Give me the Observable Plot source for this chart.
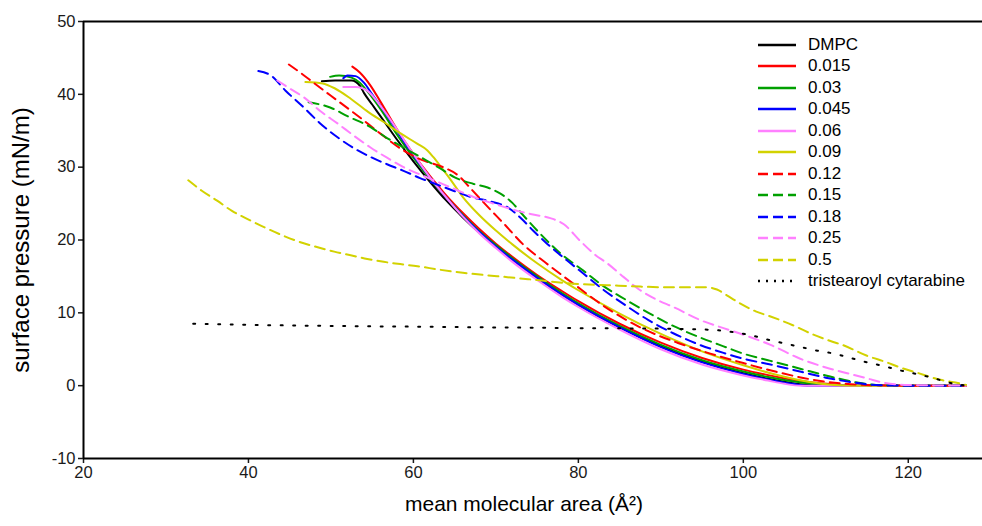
<!DOCTYPE html>
<html><head><meta charset="utf-8">
<script src="https://cdn.jsdelivr.net/npm/d3@7"></script>
<script src="https://cdn.jsdelivr.net/npm/@observablehq/plot@0.6"></script>
<style>
body{margin:0;background:#fff;font-family:"Liberation Sans",Arial,sans-serif}
#wrap{position:relative;width:982px;height:526px;overflow:hidden}
#legend{position:absolute;left:757px;top:34px}
.row{display:flex;align-items:center;height:21.5px;font-size:17px;color:#000;white-space:nowrap}
.row svg{width:40px;height:6px;margin-right:11px}
</style></head><body><div id="wrap"></div>
<script>
// ---- data ----
const seriesNames = ["DMPC","0.015","0.03","0.045","0.06","0.09","0.12","0.15","0.18","0.25","0.5","tristearoyl cytarabine"];
const xTicks = [20,40,60,80,100,120];
const yTicks = [-10,0,10,20,30,40,50];
const xTitle = "mean molecular area (Å²)";
const yTitle = "surface pressure (mN/m)";

const dmpc = [[48.9,41.8],[50.5,41.9],[52.5,41.9],[53.5,41.2],[54,40.2],[55,38.6],[56,37],[58,33.8],[60,30.8],[62,28],[64,25.4],[66,23.1],[68,21],[70,19.1],[72,17.3],[75,14.8],[78,12.5],[80,11.1],[85,8],[90,5.4],[95,3.3],[100,1.7],[103,0.95],[106,0.35],[109,0.05],[115,0],[127,0]];
const s0015 = [[52.6,43.8],[53.5,43],[54.8,41.2],[56,39],[58,35.2],[60,31.8],[62,28.8],[64,26.1],[66,23.7],[68,21.5],[70,19.5],[72,17.7],[75,15.2],[78,13],[80,11.6],[85,8.5],[90,5.9],[95,3.8],[100,2.2],[103,1.45],[106,0.8],[109,0.35],[112,0.1],[116,0],[127,0]];
const s003 = [[49.9,42.4],[51,42.6],[52.5,42.3],[53.5,41.6],[54.5,40.3],[56,38],[58,34.5],[60,31.3],[62,28.4],[64,25.8],[66,23.4],[68,21.2],[70,19.3],[72,17.5],[75,15],[78,12.7],[80,11.3],[85,8.2],[90,5.6],[95,3.5],[100,1.95],[103,1.2],[106,0.6],[109,0.2],[113,0],[127,0]];
const s0045 = [[51.5,42.2],[52,42.6],[53,42.5],[54,41.6],[55,40],[56.5,37.6],[58,35],[60,31.6],[62,28.6],[64,25.8],[66,23.3],[68,21.1],[70,19.1],[72,17.3],[75,14.8],[78,12.5],[80,11.1],[85,8],[90,5.3],[95,3.2],[100,1.6],[103,0.85],[106,0.25],[108,0],[127,0]];
const s006 = [[51.5,41],[53,41],[54.5,40.4],[56,38.4],[58,35.2],[60,31.8],[62,28.6],[64,25.8],[66,23.2],[68,20.9],[70,18.9],[72,17],[75,14.5],[78,12.2],[80,10.8],[85,7.7],[90,5],[95,2.9],[100,1.4],[103,0.7],[105,0.25],[107,0],[127,0]];
const s009 = [[46.9,41.7],[49,41.5],[50.5,40.8],[52.4,39.4],[54.5,37.6],[56.4,36.2],[58.5,34.6],[60.5,33.2],[61.7,32.3],[62.4,31.4],[63.5,29.8],[64.5,28.3],[66,25.9],[68,23.4],[70,21.3],[72,19.4],[75,16.8],[78,14.5],[80,13.1],[85,9.9],[90,7.1],[95,4.7],[100,2.8],[104,1.5],[108,0.5],[111,0.1],[114,0],[127,0]];
const s012 = [[44.9,44.1],[46.5,42.8],[48,41.5],[50,39.8],[53.2,37.1],[56,34.6],[58.8,32.3],[61,31],[63.6,30],[65.5,28.8],[67,27],[69.3,24.2],[71,22.2],[73.3,19.4],[76,16.9],[79.4,14],[83,11],[87.5,8],[92,5.9],[96,4.4],[100,3.1],[104,1.9],[108,0.9],[112,0.3],[116,0.05],[120,0],[127,0]];
const s015 = [[47.3,38.9],[49.9,38.2],[52,37],[54.8,35.5],[56.8,34],[58.8,32.7],[61,31.3],[63.3,29.8],[65,28.6],[67.3,27.7],[69,27.2],[70.5,26.4],[72,25.1],[73,23.8],[76.2,19.9],[78,18],[80.6,15.8],[83,13.7],[85.9,11.7],[88.5,10],[91.5,8.2],[94.8,6.6],[97.6,5.4],[100,4.4],[103.3,3.4],[107,2.3],[110,1.4],[114,0.4],[117,0.05],[127,0]];
const s018 = [[41.2,43.2],[42.7,42.6],[44.5,40.5],[46.7,38.2],[48.7,36],[50.8,34.1],[52.8,32.6],[54.8,31.4],[56.8,30.4],[58.8,29.5],[60.8,28.5],[62.9,27.6],[65,26.7],[67,25.9],[69.3,25.3],[71.4,24.5],[73.3,22.7],[74.5,21.3],[76.2,19.5],[78.5,17.3],[80.6,15.4],[83,13.2],[85.9,10.9],[88.5,9],[91.5,7.2],[94.5,5.7],[97.6,4.5],[100,3.7],[103.3,2.9],[107,1.9],[110,1.1],[113,0.5],[116,0.1],[120,0],[127,0]];
const s025 = [[43.5,41.9],[45,40.8],[46.7,39.6],[48.7,37.7],[50.8,36],[52.8,34.3],[54.8,32.7],[56.8,31.3],[58.8,30],[60.8,29],[62.9,28],[65,27],[67.3,25.9],[70,24.9],[72.6,24],[74.5,23.5],[76.6,23],[78.2,22.2],[80.2,19.9],[82,18],[83.5,16.8],[85.5,14.9],[87.5,13.1],[89.5,11.8],[91.5,10.8],[94.8,9],[97.6,7.9],[100,7],[103.3,5.6],[106.9,3.7],[110,2.5],[112.6,1.7],[115,1.0],[117,0.4],[120,0.1],[127,0]];
const s05 = [[32.7,28.2],[34.3,26.8],[36.2,25.4],[38,24],[40.2,22.7],[42.2,21.6],[44.2,20.6],[46.3,19.7],[48.4,19],[50.4,18.4],[52.4,17.9],[54.4,17.4],[56.4,17],[58.4,16.7],[60.5,16.4],[63.3,15.9],[66,15.5],[68.5,15.2],[71.4,14.9],[75,14.5],[79.4,14],[83.5,13.8],[87.5,13.6],[91.5,13.5],[95.6,13.5],[96.8,13.2],[98,12.4],[99.6,11.3],[101.5,10.2],[103.3,9.5],[106,8.3],[108.5,7],[110.9,6.0],[112,5.6],[115,4.1],[117.4,3.2],[119,2.5],[121,1.8],[123.9,0.8],[126.3,0.3],[127,0.1]];
const tsc = [[33.3,8.5],[40,8.35],[50,8.2],[60,8.1],[70,8.0],[80,7.9],[88,7.85],[94,7.75],[97,7.6],[99,7.3],[101,6.9],[103,6.3],[105,5.8],[107,5.3],[109,4.8],[111,4.4],[113,3.8],[115,3.2],[117,2.7],[119,2.1],[121,1.6],[123,1.05],[125,0.4],[126.7,0.05]];

// ---- styles ----
const seriesData = [dmpc,s0015,s003,s0045,s006,s009,s012,s015,s018,s025,s05,tsc];
const colors = ["#000000","#ff0000","#00a000","#0000ff","#ff80ff","#d2d200","#ff0000","#00a000","#0000ff","#ff80ff","#d2d200","#000000"];
const dashes = [null,null,null,null,null,null,"10,6","10,6","10,6","10,6","10,6","2,10.5"];
const legendDashes = [null,null,null,null,null,null,"10,5","10,5","10,5","10,5","10,5","2,6"];

const lineMarks = seriesData.map((d, i) => Plot.line(d, {
  x: p => p[0], y: p => p[1],
  stroke: colors[i], strokeWidth: 2,
  strokeDasharray: dashes[i] || undefined,
  curve: "monotone-x"
}));

const chart = Plot.plot({
  width: 982, height: 526,
  marginLeft: 83, marginRight: 0, marginTop: 21, marginBottom: 68,
  x: {domain: [20, 129]},
  y: {domain: [-10, 50]},
  style: {fontFamily: "'Liberation Sans', Arial, sans-serif", fontSize: "16px", color: "#1a1a1a", background: "#fff", overflow: "visible"},
  marks: [
    Plot.axisX({ticks: xTicks, tickSize: 5, tickPadding: 3, label: null, strokeWidth: 1.5, fontSize: 16.5, tickFormat: d => String(d)}),
    Plot.axisY({ticks: yTicks, tickSize: 5, tickPadding: 3, label: null, strokeWidth: 1.5, fontSize: 16.5, tickFormat: d => String(d)}),
    ...lineMarks,
    Plot.ruleX([20], {stroke: "#000", strokeWidth: 2}),
    Plot.ruleY([-10, 50], {stroke: "#000", strokeWidth: 2}),
    Plot.text([yTitle], {text: d => d, frameAnchor: "left", textAnchor: "middle", rotate: -90, dx: -62, fontSize: 24, fill: "#000"}),
    Plot.text([xTitle], {text: d => d, frameAnchor: "bottom", textAnchor: "middle", dy: 52, dx: -9, fontSize: 21, fill: "#000"})
  ]
});

const wrap = document.getElementById("wrap");
wrap.appendChild(chart);

const legend = document.createElement("div");
legend.id = "legend";
seriesNames.forEach((name, i) => {
  const row = document.createElement("div");
  row.className = "row";
  const dash = legendDashes[i] ? `stroke-dasharray="${legendDashes[i]}"` : "";
  row.innerHTML = `<svg viewBox="0 0 40 6"><line x1="1" y1="3" x2="39" y2="3" stroke="${colors[i]}" stroke-width="2.5" ${dash}/></svg><span>${name}</span>`;
  legend.appendChild(row);
});
wrap.appendChild(legend);
</script>
</body></html>
